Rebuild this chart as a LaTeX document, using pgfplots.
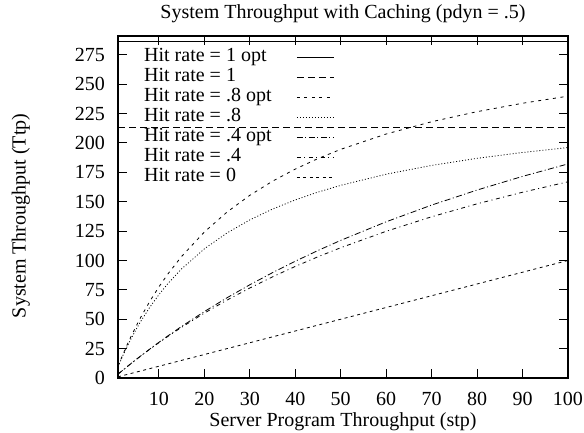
\documentclass[border=0pt]{standalone}
\usepackage{fontspec}
\setmainfont{Liberation Serif}
\usepackage{pgfplots}
\pgfplotsset{compat=1.18}
\newcommand{\ff}{\fontsize{20bp}{24bp}\selectfont}

\begin{document}
\begin{tikzpicture}
\useasboundingbox (0bp,0bp) rectangle (584bp,433bp);
\begin{axis}[
  at={(118bp,55bp)}, anchor=south west,
  scale only axis, width=450bp, height=342bp,
  xmin=1, xmax=100, ymin=0, ymax=291,
  xtick={10,20,...,100}, ytick={0,25,...,275},
  tick align=inside, tick pos=both, major tick length=9bp,
  every tick/.style={black, line width=1bp},
  axis line style={line width=1.5bp},
  /pgf/number format/assume math mode=true,
  tick label style={font=\ff},
  xticklabel style={anchor=base, yshift=-27bp, inner sep=0pt},
  yticklabel style={anchor=east, xshift=-13bp, inner sep=0pt},
  title={System Throughput with Caching (pdyn = .5)},
  title style={font=\ff, at={(axis description cs:0.5,1)}, anchor=base, yshift=12bp},
  xlabel={Server Program Throughput (stp)},
  xlabel style={font=\ff, at={(axis description cs:0.5,0)}, anchor=base, yshift=-48bp},
  ylabel={System Throughput (Ttp)},
  ylabel style={font=\ff, at={(axis description cs:-0.205,0.474)}, anchor=base},
  legend style={font=\ff, draw=none, fill=none,
    at={(axis description cs:0.0578,0.968)}, anchor=north west,
    inner sep=0pt, row sep=0pt, column sep=25bp,
    nodes={inner sep=0pt, text height=14bp, text depth=6bp}},
  legend cell align=left, legend plot pos=right,
  legend image code/.code={\draw[#1] (0bp,0bp) -- (37bp,0bp);},
  every axis plot/.append style={black, line width=0.8bp},
]
% hit rate 1 opt
\addplot[solid] coordinates {(1,286) (100,286)};
% hit rate 1
\addplot[dash pattern=on 7bp off 4bp] coordinates {(1,213) (100,213)};
% hit rate .8 opt
\addplot[dash pattern=on 3bp off 4.5bp] coordinates {
  (1,9.98) (2,19.34) (3,28.14) (4,36.43) (5,44.25) (6,51.63) (8,65.25)
  (10,77.52) (12,88.63) (15,103.45) (20,124.22) (25,141.24) (30,155.44)
  (35,167.46) (40,177.78) (45,186.72) (50,194.55) (60,207.61) (70,218.06)
  (80,226.62) (90,233.77) (100,239.81)
};
% hit rate .8
\addplot[dash pattern=on 1bp off 2bp] coordinates {
  (1,9.61) (2,18.48) (3,26.71) (4,34.36) (5,41.49) (6,48.15) (8,60.24)
  (10,70.92) (12,80.43) (15,92.88) (20,109.89) (25,123.46) (30,134.53)
  (35,143.74) (40,151.52) (45,158.17) (50,163.93) (60,173.41) (70,180.88)
  (80,186.92) (90,191.90) (100,196.08)
};
% hit rate .4 opt
\addplot[dash pattern=on 6bp off 2.5bp on 1bp off 2.5bp] coordinates {
  (1,3.25) (2,6.45) (3,9.61) (4,12.71) (5,15.76) (6,18.77) (8,24.65)
  (10,30.36) (12,35.90) (15,43.91) (20,56.53) (25,68.31) (30,79.32)
  (35,89.65) (40,99.35) (45,108.49) (50,117.10) (60,132.92) (70,147.12)
  (80,159.93) (90,171.55) (100,182.15)
};
% hit rate .4
\addplot[dash pattern=on 4bp off 3.5bp on 1bp off 3.5bp] coordinates {
  (1,3.27) (2,6.47) (3,9.62) (4,12.70) (5,15.73) (6,18.71) (8,24.49)
  (10,30.07) (12,35.45) (15,43.18) (20,55.22) (25,66.31) (30,76.57)
  (35,86.08) (40,94.92) (45,103.16) (50,110.86) (60,124.84) (70,137.20)
  (80,148.20) (90,158.05) (100,166.94)
};
% hit rate 0
\addplot[dash pattern=on 3bp off 3.5bp] coordinates {(1,1) (100,100)};
\legend{Hit rate = 1 opt, Hit rate = 1, Hit rate = .8 opt, Hit rate = .8,
  Hit rate = .4 opt, Hit rate = .4, Hit rate = 0}
\end{axis}
\end{tikzpicture}
\end{document}
